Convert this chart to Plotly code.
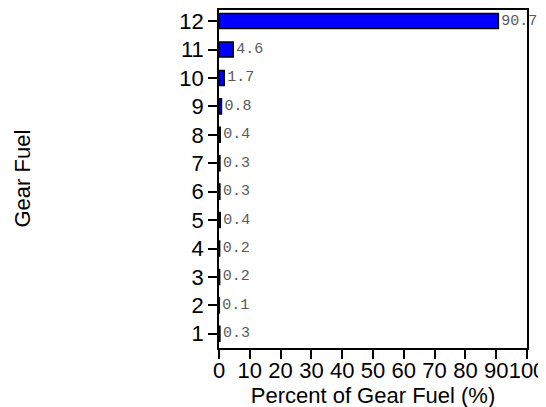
import plotly.graph_objects as go

gears = [1, 2, 3, 4, 5, 6, 7, 8, 9, 10, 11, 12]
percent = [0.3, 0.1, 0.2, 0.2, 0.4, 0.3, 0.3, 0.4, 0.8, 1.7, 4.6, 90.7]
labels = ["%.1f" % v for v in percent]

fig = go.Figure(go.Bar(
    x=percent, y=gears, orientation="h",
    width=0.53,
    marker=dict(color="#0000ff", line=dict(color="black", width=1.5)),
    text=labels, textposition="outside", cliponaxis=False, constraintext="none",
    textfont=dict(family="Courier New, monospace", size=15, color="#5a5a5a"),
))

# the page puts the figure 8px in from the top-left, so margins allow for that
fig.update_layout(
    width=546, height=407,
    margin=dict(l=211, r=27, t=0, b=67),
    plot_bgcolor="white", paper_bgcolor="white",
    font=dict(family="Liberation Sans, Arial, sans-serif", size=22, color="black"),
    showlegend=False,
)
fig.update_xaxes(
    range=[0, 100], tickvals=list(range(0, 101, 10)), tickangle=0,
    ticks="outside", ticklen=9, tickwidth=1.5, tickcolor="black",
    ticklabelstandoff=-7,
    showline=True, linecolor="black", linewidth=1.5, mirror=True,
    showgrid=False, zeroline=False,
    title=dict(text="Percent of Gear Fuel (%)", font=dict(size=22), standoff=0),
)
# top of range trimmed a little so the bars sit where the reference has them
fig.update_yaxes(
    range=[0.5, 12.39], tickvals=gears,
    ticks="outside", ticklen=9, tickwidth=1.5, tickcolor="black",
    showline=True, linecolor="black", linewidth=1.5, mirror=True,
    showgrid=False, zeroline=False,
)
# left edge of the box at the figure's left edge, so nothing gets clipped
fig.add_annotation(
    text="Gear Fuel", textangle=-90, showarrow=False, borderpad=0,
    xref="paper", yref="paper", x=-211 / 308, y=0.5,
    xanchor="left", yanchor="middle", font=dict(size=22),
)

fig.write_html("out.html")
